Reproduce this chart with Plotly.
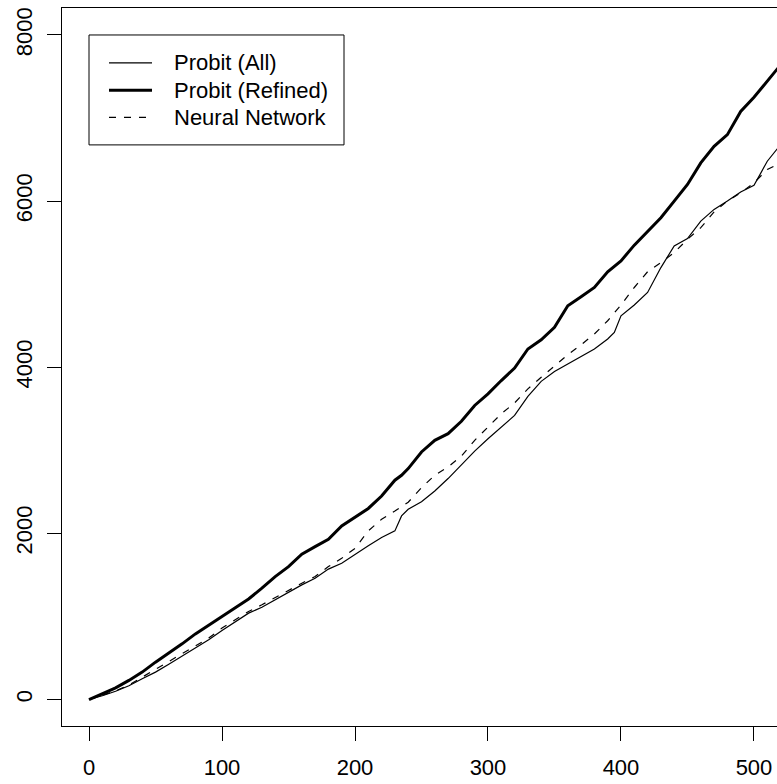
import plotly.graph_objects as go

# x positions (observation index)
x_vals = [0, 10, 20, 30, 40, 50, 60, 70, 80, 90, 100, 110, 120, 130, 140, 150, 160, 170, 180, 190,
          200, 210, 220, 230, 235, 240, 250, 260, 270, 280, 290, 300, 310, 320, 330, 340, 350, 360,
          370, 380, 390, 395, 400, 410, 420, 430, 440, 450, 460, 470, 480, 490, 500, 510, 520]

probit_all = [0, 45, 100, 165, 250, 330, 425, 520, 620, 720, 830, 940, 1040, 1110, 1200, 1300, 1380,
              1460, 1570, 1640, 1750, 1850, 1950, 2030, 2210, 2290, 2380, 2510, 2660, 2830, 2990, 3140,
              3280, 3420, 3650, 3830, 3950, 4040, 4130, 4220, 4340, 4420, 4620, 4750, 4900, 5200, 5460,
              5550, 5760, 5900, 6000, 6110, 6190, 6480, 6680]

probit_refined = [0, 70, 140, 230, 330, 450, 555, 670, 790, 890, 1000, 1105, 1210, 1340, 1480, 1600,
                  1750, 1840, 1930, 2090, 2190, 2300, 2450, 2640, 2700, 2780, 2980, 3120, 3200, 3350,
                  3540, 3680, 3840, 3990, 4220, 4330, 4480, 4740, 4850, 4960, 5150, 5210, 5280, 5470,
                  5630, 5800, 6000, 6200, 6460, 6660, 6800, 7080, 7250, 7440, 7640]

neural_net = [0, 50, 105, 175, 270, 355, 460, 550, 650, 740, 860, 960, 1060, 1140, 1230, 1320, 1400,
              1480, 1600, 1700, 1820, 2030, 2170, 2270, 2320, 2375, 2550, 2700, 2800, 2930, 3120, 3280,
              3440, 3570, 3740, 3880, 4020, 4150, 4270, 4400, 4560, 4650, 4750, 4960, 5150, 5260, 5380,
              5540, 5680, 5870, 6000, 6100, 6220, 6380, 6460]

series_names = ["Probit (All)", "Probit (Refined)", "Neural Network"]
x_ticks = [0, 100, 200, 300, 400, 500]
y_ticks = [0, 2000, 4000, 6000, 8000]

FONT = "Liberation Sans, Arial, Helvetica, sans-serif"
W, H = 777, 784
ML, MR, MT = 62, 0, 8
MB = H - 726.5
PW, PH = W - ML - MR, H - MT - MB

def px2paper(px, py):
    return (px - ML) / PW, 1 - (py - MT) / PH

styles = [dict(color="black", width=1.2),
          dict(color="black", width=3),
          dict(color="black", width=1.2, dash="7px,8px")]
series = [probit_all, probit_refined, neural_net]

fig = go.Figure()
for name, ys, st in zip(series_names, series, styles):
    fig.add_trace(go.Scatter(x=x_vals, y=ys, mode="lines", name=name, line=st, showlegend=False))

# manual legend (box, samples, labels) placed like the R legend
shapes = []
annotations = []
x0, y0 = px2paper(89, 35)
x1, y1 = px2paper(344, 145)
shapes.append(dict(type="rect", xref="paper", yref="paper", x0=x0, y0=y1, x1=x1, y1=y0,
                   line=dict(color="black", width=1), fillcolor="white", layer="above"))
for i, (name, st) in enumerate(zip(series_names, styles)):
    py = 63 + i * 27.2
    lx0, ly = px2paper(109, py)
    lx1, _ = px2paper(152, py)
    shapes.append(dict(type="line", xref="paper", yref="paper", x0=lx0, x1=lx1, y0=ly, y1=ly,
                       line=dict(color="black", width=st["width"], dash=st.get("dash", "solid")),
                       layer="above"))
    tx, _ = px2paper(172, py)
    annotations.append(dict(xref="paper", yref="paper", x=tx, y=ly, text=name, showarrow=False,
                            xanchor="left", yanchor="middle",
                            font=dict(family=FONT, size=22, color="black")))

fig.update_layout(
    width=W, height=H,
    margin=dict(l=ML, r=MR, t=MT, b=MB),
    paper_bgcolor="white", plot_bgcolor="white",
    font=dict(family=FONT, size=22, color="black"),
    showlegend=False,
    shapes=shapes, annotations=annotations,
)
fig.update_xaxes(range=[-20.3, 517.3], tickvals=x_ticks, ticktext=[str(v) for v in x_ticks],
                 showgrid=False, zeroline=False, showline=True, linecolor="black", linewidth=1,
                 mirror=True, ticks="outside", ticklen=14, tickcolor="black", tickwidth=1,
                 automargin=False, ticklabelstandoff=8, ticklabeloverflow="allow",
                 tickfont=dict(family=FONT, size=22, color="black"))
fig.update_yaxes(range=[-318.8, 8324.8], tickvals=y_ticks, ticktext=[str(v) for v in y_ticks],
                 showgrid=False, zeroline=False, showline=True, linecolor="black", linewidth=1,
                 mirror=False, ticks="outside", ticklen=14, tickcolor="black", tickwidth=1,
                 automargin=False, ticklabelstandoff=6, ticklabeloverflow="allow",
                 tickangle=-90, tickfont=dict(family=FONT, size=22, color="black"))

fig.write_html(
    "out.html",
    config={"displayModeBar": False},
    post_script="document.body.style.margin='0';document.body.style.overflow='hidden';",
)
